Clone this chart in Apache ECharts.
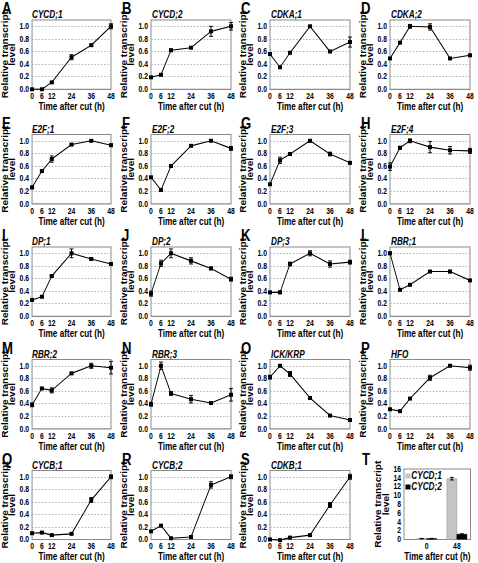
<!DOCTYPE html>
<html><head><meta charset="utf-8">
<script src="https://cdn.jsdelivr.net/npm/echarts@6/dist/echarts.min.js"></script>
<style>html,body{margin:0;padding:0;background:#fff;overflow:hidden;width:478px;height:563px}
#c{width:583px;height:563px;transform:scaleX(0.82);transform-origin:0 0}</style>
</head><body><div id="c"></div>
<script>
// ---- data ----
const timePoints = [0, 6, 12, 24, 36, 48];
const timeTickLabels = [0, 6, 12, 24, 36, 48];
const panelLetters = ['A','B','C','D','E','F','G','H','I','J','K','L','M','N','O','P','Q','R','S'];
const geneNames = ['CYCD;1','CYCD;2','CDKA;1','CDKA;2','E2F;1','E2F;2','E2F;3','E2F;4','DP;1','DP;2','DP;3','RBR;1','RBR;2','RBR;3','ICK/KRP','HFO','CYCB;1','CYCB;2','CDKB;1'];
const yTickLabels = [0.0, 0.2, 0.4, 0.6, 0.8, 1.0];

const cycd1 = [0.0, 0.0, 0.11, 0.51, 0.70, 1.0];
const cycd1Err = [0, 0, 0.01, 0.04, 0.02, 0.04];
const cycd2 = [0.19, 0.23, 0.62, 0.66, 0.92, 1.0];
const cycd2Err = [0, 0.01, 0.02, 0.01, 0.08, 0.06];
const cdka1 = [0.56, 0.35, 0.58, 1.0, 0.60, 0.75];
const cdka1Err = [0, 0, 0.01, 0.01, 0.01, 0.08];
const cdka2 = [0.49, 0.74, 1.0, 0.99, 0.49, 0.54];
const cdka2Err = [0, 0.01, 0.03, 0.05, 0, 0];
const e2f1 = [0.26, 0.52, 0.71, 0.94, 1.0, 0.93];
const e2f1Err = [0.02, 0.01, 0.05, 0.01, 0.01, 0.02];
const e2f2 = [0.42, 0.22, 0.60, 0.92, 1.0, 0.88];
const e2f2Err = [0, 0, 0, 0, 0, 0.03];
const e2f3 = [0.31, 0.69, 0.79, 1.0, 0.79, 0.65];
const e2f3Err = [0, 0.05, 0.02, 0.02, 0.03, 0.01];
const e2f4 = [0.59, 0.89, 1.0, 0.90, 0.85, 0.84];
const e2f4Err = [0.06, 0.02, 0.03, 0.09, 0.06, 0.04];
const dp1 = [0.26, 0.31, 0.64, 1.0, 0.91, 0.83];
const dp1Err = [0.02, 0.01, 0.01, 0.07, 0.02, 0.02];
const dp2 = [0.36, 0.84, 1.0, 0.88, 0.76, 0.59];
const dp2Err = [0.04, 0.05, 0.07, 0.05, 0.02, 0.03];
const dp3 = [0.38, 0.38, 0.83, 1.0, 0.83, 0.86];
const dp3Err = [0.01, 0.02, 0.03, 0.04, 0.05, 0.03];
const rbr1 = [1.0, 0.42, 0.50, 0.71, 0.71, 0.57];
const rbr1Err = [0.02, 0.01, 0.01, 0.01, 0.02, 0.01];
const rbr2 = [0.38, 0.64, 0.61, 0.88, 1.0, 0.97];
const rbr2Err = [0.03, 0.01, 0.04, 0.01, 0.04, 0.10];
const rbr3 = [0.39, 1.0, 0.56, 0.47, 0.41, 0.54];
const rbr3Err = [0.03, 0.06, 0.03, 0.06, 0.02, 0.10];
const ickkrp = [0.82, 1.0, 0.87, 0.49, 0.21, 0.14];
const ickkrpErr = [0.03, 0.01, 0.04, 0.02, 0.01, 0.01];
const hfo = [0.31, 0.28, 0.48, 0.81, 1.0, 0.97];
const hfoErr = [0.01, 0.01, 0.01, 0.04, 0.01, 0.04];
const cycb1 = [0.10, 0.11, 0.07, 0.09, 0.63, 1.0];
const cycb1Err = [0.01, 0.01, 0.01, 0.01, 0.04, 0.03];
const cycb2 = [0.13, 0.22, 0.02, 0.04, 0.87, 1.0];
const cycb2Err = [0.01, 0.01, 0.01, 0.01, 0.05, 0.03];
const cdkb1 = [0.0, -0.01, 0.03, 0.07, 0.55, 1.0];
const cdkb1Err = [0.01, 0.01, 0.01, 0.01, 0.04, 0.04];

// panel T
const barCategories = ['0', '48'];
const barSeriesNames = ['CYCD;1', 'CYCD;2'];
const barCycd1 = [0.2, 13.8];
const barCycd1Err = [0.05, 0.3];
const barCycd2 = [0.2, 1.2];
const barCycd2Err = [0.05, 0.1];
const barYTicks = [0, 2, 4, 6, 8, 10, 12, 14, 16];

const lineValues = [cycd1, cycd2, cdka1, cdka2, e2f1, e2f2, e2f3, e2f4, dp1, dp2, dp3, rbr1, rbr2, rbr3, ickkrp, hfo, cycb1, cycb2, cdkb1];
const lineErrors = [cycd1Err, cycd2Err, cdka1Err, cdka2Err, e2f1Err, e2f2Err, e2f3Err, e2f4Err, dp1Err, dp2Err, dp3Err, rbr1Err, rbr2Err, rbr3Err, ickkrpErr, hfoErr, cycb1Err, cycb2Err, cdkb1Err];

// ---- layout (screen px; the chart canvas is horizontally compressed by S via CSS) ----
const S = 0.82;
const hx = v => v / S;
const FONT = "'Liberation Sans', Arial, sans-serif";
const colX = [31, 151, 270, 390];
const rowY = [20, 134.5, 247, 359.5, 470.5];
const boxW = 80, boxH = 69.3;

const grids = [], xAxes = [], yAxes = [], series = [], titles = [];

function errRender(params, api) {
  const x = api.value(0), lo = api.value(1), hi = api.value(2), off = api.value(3) || 0;
  if (hi - lo <= 0) return;
  const p1 = api.coord([x, hi]), p2 = api.coord([x, lo]);
  const cx = p1[0] + hx(off), w = hx(2);
  const st = { stroke: '#000', lineWidth: 1 };
  return { type: 'group', children: [
    { type: 'line', shape: { x1: cx, y1: p1[1], x2: cx, y2: p2[1] }, style: { stroke: '#000', lineWidth: 1.2 } },
    { type: 'line', shape: { x1: cx - w, y1: p1[1], x2: cx + w, y2: p1[1] }, style: st },
    { type: 'line', shape: { x1: cx - w, y1: p2[1], x2: cx + w, y2: p2[1] }, style: st }
  ]};
}

const tickStyle = { fontFamily: FONT, fontSize: 8.3, fontWeight: 'bold', color: '#000' };
const nameStyle = { fontFamily: FONT, fontSize: 10, fontWeight: 'bold', color: '#000', lineHeight: 9 };
const letterStyle = { fontFamily: FONT, fontSize: 16, fontWeight: 'bold', color: '#000', lineHeight: 16 };
const geneStyle = { fontFamily: FONT, fontSize: 10, fontWeight: 'bold', fontStyle: 'italic', color: '#000', lineHeight: 10 };

function addTitles(letter, gene, gx, gy) {
  titles.push({ text: letter, left: hx(gx - 29), top: gy - 19, padding: 0, textStyle: letterStyle });
  if (gene) titles.push({ text: gene, left: hx(gx + 1), top: gy - 10, padding: 0, textStyle: geneStyle });
}

for (let i = 0; i < lineValues.length; i++) {
  const gx = colX[i % 4], gy = rowY[Math.floor(i / 4)];
  grids.push({ left: hx(gx), top: gy, width: hx(boxW), height: boxH, show: true, borderColor: '#8a8a8a', borderWidth: 1.2, backgroundColor: '#fff' });
  xAxes.push({ gridIndex: i, type: 'value', min: 0, max: 48,
    axisLine: { show: false }, axisTick: { show: false }, splitLine: { show: false },
    axisLabel: Object.assign({ customValues: timeTickLabels, margin: 3, showMinLabel: true, showMaxLabel: true }, tickStyle),
    name: 'Time after cut (h)', nameLocation: 'middle', nameGap: 13, nameTextStyle: nameStyle });
  yAxes.push({ gridIndex: i, type: 'value', min: 0, max: 1.1, interval: 0.2,
    axisLine: { show: false }, axisTick: { show: false },
    splitLine: { show: true, showMinLine: false, showMaxLine: false, lineStyle: { type: [2, 2], color: '#b0b0b0', width: 1 } },
    axisLabel: Object.assign({ customValues: yTickLabels, margin: hx(3), showMinLabel: true, showMaxLabel: true, formatter: v => v.toFixed(1) }, tickStyle),
    name: 'Relative transcript\nlevel', nameLocation: 'middle', nameRotate: 90, nameGap: hx(11), nameTextStyle: nameStyle });
  const vals = lineValues[i], errs = lineErrors[i];
  series.push({ type: 'custom', xAxisIndex: i, yAxisIndex: i, renderItem: errRender, clip: false, z: 3,
    data: timePoints.map((t, k) => [t, vals[k] - errs[k], vals[k] + errs[k], 0]) });
  series.push({ type: 'line', xAxisIndex: i, yAxisIndex: i, clip: false, z: 4,
    symbol: 'rect', symbolSize: [hx(4), 4], itemStyle: { color: '#000' }, lineStyle: { color: '#000', width: 1.1 },
    data: timePoints.map((t, k) => [t, vals[k]]) });
  addTitles(panelLetters[i], geneNames[i], gx, gy);
}

// panel T
const ti = lineValues.length;
const tLeft = 404, tTop = rowY[4] - 1.5, tW = 66.5, tH = 70.5;
grids.push({ left: hx(tLeft), top: tTop, width: hx(tW), height: tH, show: true, borderColor: '#8a8a8a', borderWidth: 1.2, backgroundColor: '#fff' });
xAxes.push({ gridIndex: ti, type: 'value', min: -0.75, max: 1.45,
  axisLine: { show: false }, axisTick: { show: false }, splitLine: { show: false },
  axisLabel: Object.assign({ customValues: [0, 1], margin: 3, showMinLabel: true, showMaxLabel: true, formatter: v => barCategories[Math.round(v)] }, tickStyle),
  name: 'Time after cut (h)', nameLocation: 'middle', nameGap: 13, nameTextStyle: nameStyle });
yAxes.push({ gridIndex: ti, type: 'value', min: 0, max: 16, interval: 2,
  axisLine: { show: false }, axisTick: { show: false }, splitLine: { show: false },
  axisLabel: Object.assign({ customValues: barYTicks, margin: hx(3), showMinLabel: true, showMaxLabel: true, hideOverlap: false }, tickStyle),
  name: 'Relative transcript\nlevel', nameLocation: 'middle', nameRotate: 90, nameGap: hx(14), nameTextStyle: nameStyle });
function barRender(api, off, fill, stroke) {
  const top = api.coord([api.value(0), api.value(1)]);
  const base = api.coord([api.value(0), 0]);
  return { type: 'rect', shape: { x: top[0] + hx(off), y: top[1], width: hx(10), height: base[1] - top[1] },
    style: { fill: fill, stroke: stroke, lineWidth: 0.6 } };
}
series.push({ type: 'custom', xAxisIndex: ti, yAxisIndex: ti, name: barSeriesNames[0], clip: true, z: 2,
  itemStyle: { color: '#c4c4c4' },
  renderItem: (p, api) => barRender(api, -10, '#c4c4c4', '#9a9a9a'),
  data: barCycd1.map((v, k) => [k, v]) });
series.push({ type: 'custom', xAxisIndex: ti, yAxisIndex: ti, name: barSeriesNames[1], clip: true, z: 2,
  itemStyle: { color: '#000' },
  renderItem: (p, api) => barRender(api, 0, '#000', '#000'),
  data: barCycd2.map((v, k) => [k, v]) });
series.push({ type: 'custom', xAxisIndex: ti, yAxisIndex: ti, renderItem: errRender, clip: false, z: 5,
  data: barCycd1.map((v, k) => [k, v - barCycd1Err[k], v + barCycd1Err[k], -5])
    .concat(barCycd2.map((v, k) => [k, v - barCycd2Err[k], v + barCycd2Err[k], 5])) });
titles.push({ text: 'T', left: hx(362), top: rowY[4] - 19, padding: 0, textStyle: letterStyle });

const chart = echarts.init(document.getElementById('c'), null, { renderer: 'svg' });
chart.setOption({
  animation: false,
  backgroundColor: '#fff',
  title: titles,
  grid: grids, xAxis: xAxes, yAxis: yAxes, series: series,
  legend: { data: barSeriesNames, orient: 'vertical', left: hx(tLeft + 1.5), top: tTop + 2, padding: 0,
    itemWidth: hx(5), itemHeight: 5, itemGap: 1, icon: 'rect',
    textStyle: { fontFamily: FONT, fontSize: 10, fontWeight: 'bold', fontStyle: 'italic', color: '#000', padding: [0, 0, 0, -4] } }
});
</script></body></html>
